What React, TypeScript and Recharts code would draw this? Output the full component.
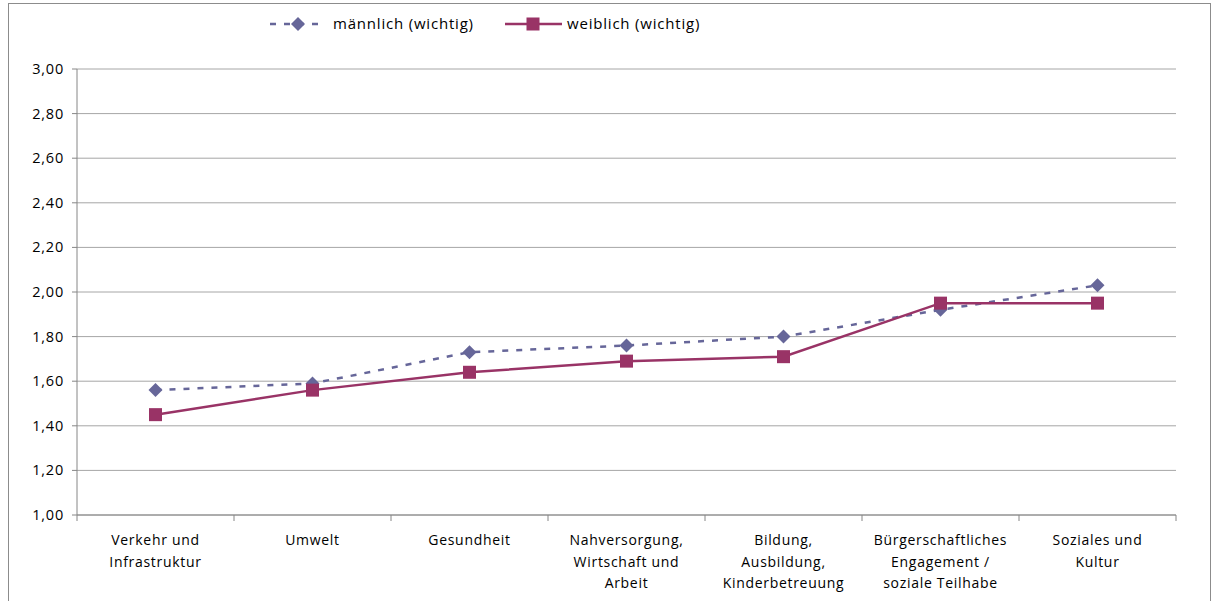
import { CartesianGrid, Line, LineChart, XAxis, YAxis } from "recharts";

const categories = [
  "Verkehr und\nInfrastruktur",
  "Umwelt",
  "Gesundheit",
  "Nahversorgung,\nWirtschaft und\nArbeit",
  "Bildung,\nAusbildung,\nKinderbetreuung",
  "Bürgerschaftliches\nEngagement /\nsoziale Teilhabe",
  "Soziales und\nKultur",
];
const maennlich = [1.56, 1.59, 1.73, 1.76, 1.8, 1.92, 2.03];
const weiblich = [1.45, 1.56, 1.64, 1.69, 1.71, 1.95, 1.95];
const yTicks = [1.0, 1.2, 1.4, 1.6, 1.8, 2.0, 2.2, 2.4, 2.6, 2.8, 3.0];

const data = categories.map((c, i) => ({
  cat: c,
  maennlich: maennlich[i],
  weiblich: weiblich[i],
}));

const W = 1212;
const H = 601;
const M = { top: 69, right: 36, bottom: 0, left: 17 };
const Y_AXIS_W = 60;
const X_AXIS_H = 86;
const PLOT_W = W - M.left - M.right - Y_AXIS_W;
const HALF = PLOT_W / categories.length / 2;

const FONT = "'Open Sans', sans-serif";
const BLUE = "#666699";
const RED = "#993366";

function XTick(props: any) {
  const { x, y, payload, index } = props;
  const lines = String(payload.value).split("\n");
  return (
    <g>
      <line x1={x - HALF} x2={x - HALF} y1={y} y2={y + 6} stroke="#868686" />
      {index === categories.length - 1 && (
        <line x1={x + HALF} x2={x + HALF} y1={y} y2={y + 6} stroke="#868686" />
      )}
      {lines.map((l, i) => (
        <text
          key={i}
          x={x}
          y={y + 30 + i * 21.5}
          textAnchor="middle"
          fontSize={14}
          letterSpacing={0.7}
          fontFamily={FONT}
          fill="#000"
        >
          {l}
        </text>
      ))}
    </g>
  );
}

function YTick(props: any) {
  const { x, y, payload } = props;
  return (
    <text
      x={x - 2}
      y={y + 5}
      textAnchor="end"
      fontSize={14.5}
      letterSpacing={0.8}
      fontFamily={FONT}
      fill="#000"
    >
      {Number(payload.value).toFixed(2).replace(".", ",")}
    </text>
  );
}

function Diamond(props: any) {
  const { cx, cy } = props;
  if (cx == null || cy == null) return null;
  const r = 7;
  return (
    <polygon
      points={`${cx},${cy - r} ${cx + r},${cy} ${cx},${cy + r} ${cx - r},${cy}`}
      fill={BLUE}
    />
  );
}

function Square(props: any) {
  const { cx, cy } = props;
  if (cx == null || cy == null) return null;
  return <rect x={cx - 6.5} y={cy - 6.5} width={13} height={13} fill={RED} />;
}

export default function App() {
  return (
    <div style={{ position: "absolute", left: 0, top: 0, width: W, height: H, background: "#fff", overflow: "hidden" }}>
      <div
        style={{
          position: "absolute",
          left: 8,
          top: 3,
          width: 1201,
          height: 640,
          border: "1px solid #8c8c8c",
        }}
      />
      <svg style={{ position: "absolute", left: 0, top: 0 }} width={W} height={50}>
        <line x1={270} x2={326} y1={24} y2={24} stroke={BLUE} strokeWidth={2.5} strokeDasharray="6 8" />
        <Diamond cx={298} cy={24} />
        <text x={333} y={29} fontSize={15} letterSpacing={0.8} fontFamily={FONT} fill="#000">
          männlich (wichtig)
        </text>
        <line x1={505} x2={562} y1={24} y2={24} stroke={RED} strokeWidth={2.5} />
        <Square cx={533} cy={24} />
        <text x={567} y={29} fontSize={15} letterSpacing={0.8} fontFamily={FONT} fill="#000">
          weiblich (wichtig)
        </text>
      </svg>
      <div style={{ position: "absolute", left: 0, top: 0 }}>
        <LineChart width={W} height={H} data={data} margin={M}>
          <CartesianGrid vertical={false} stroke="#a6a6a6" />
          <XAxis
            dataKey="cat"
            interval={0}
            height={X_AXIS_H}
            padding={{ left: HALF, right: HALF }}
            stroke="#868686"
            tickLine={false}
            tickSize={0}
            tickMargin={0}
            tick={<XTick />}
          />
          <XAxis
            xAxisId="top"
            dataKey="cat"
            orientation="top"
            height={0}
            tick={false}
            tickLine={false}
            stroke="#000"
          />
          <YAxis
            domain={[1, 3]}
            ticks={yTicks}
            width={Y_AXIS_W}
            stroke="#868686"
            tickSize={5}
            tickMargin={6}
            tick={<YTick />}
          />
          <YAxis
            yAxisId="r"
            orientation="right"
            width={0}
            tick={false}
            tickLine={false}
            stroke="#000"
          />
          <Line
            dataKey="maennlich"
            stroke={BLUE}
            strokeWidth={2.5}
            strokeDasharray="6 8"
            dot={<Diamond />}
            activeDot={false}
            isAnimationActive={false}
          />
          <Line
            dataKey="weiblich"
            stroke={RED}
            strokeWidth={2.5}
            dot={<Square />}
            activeDot={false}
            isAnimationActive={false}
          />
        </LineChart>
      </div>
    </div>
  );
}
